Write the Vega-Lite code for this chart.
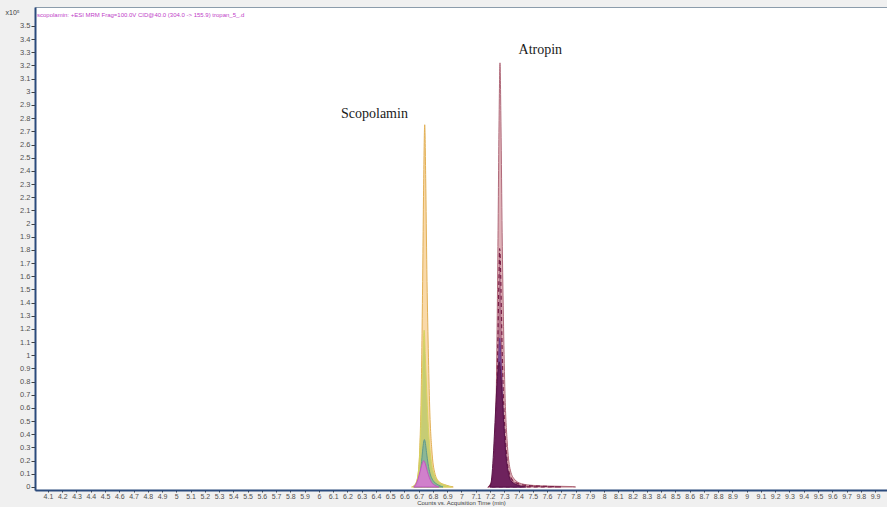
{
  "$schema": "https://vega.github.io/schema/vega-lite/v6.json",
  "width": 852,
  "height": 483,
  "autosize": {"type": "none"},
  "padding": {"left": 35, "top": 7, "right": 0, "bottom": 17},
  "background": "#f0f0f0",
  "config": {
    "view": {"fill": "white", "stroke": "#8c9cab", "strokeWidth": 1},
    "font": "Liberation Sans",
    "axis": {"labelFont": "Liberation Sans", "titleFont": "Liberation Sans", "labelColor": "#505050", "tickColor": "#404040", "grid": false}
  },
  "datasets": {
    "traces": [
      {"s": "orange", "t": 6.662, "v": 0}, {"s": "orange", "t": 6.682, "v": 0.03}, {"s": "orange", "t": 6.697, "v": 0.11},
      {"s": "orange", "t": 6.707, "v": 0.28}, {"s": "orange", "t": 6.717, "v": 0.69}, {"s": "orange", "t": 6.727, "v": 1.51},
      {"s": "orange", "t": 6.735, "v": 2.34}, {"s": "orange", "t": 6.742, "v": 2.75}, {"s": "orange", "t": 6.749, "v": 2.34},
      {"s": "orange", "t": 6.757, "v": 1.65}, {"s": "orange", "t": 6.767, "v": 1.05}, {"s": "orange", "t": 6.777, "v": 0.6},
      {"s": "orange", "t": 6.792, "v": 0.28}, {"s": "orange", "t": 6.812, "v": 0.11}, {"s": "orange", "t": 6.842, "v": 0.04},
      {"s": "orange", "t": 6.892, "v": 0.014}, {"s": "orange", "t": 6.942, "v": 0},

      {"s": "green", "t": 6.65, "v": 0}, {"s": "green", "t": 6.675, "v": 0.02}, {"s": "green", "t": 6.69, "v": 0.06},
      {"s": "green", "t": 6.70, "v": 0.14}, {"s": "green", "t": 6.71, "v": 0.32}, {"s": "green", "t": 6.72, "v": 0.62},
      {"s": "green", "t": 6.73, "v": 1.0}, {"s": "green", "t": 6.738, "v": 1.19}, {"s": "green", "t": 6.746, "v": 1.0},
      {"s": "green", "t": 6.755, "v": 0.75}, {"s": "green", "t": 6.765, "v": 0.5}, {"s": "green", "t": 6.775, "v": 0.33},
      {"s": "green", "t": 6.79, "v": 0.18}, {"s": "green", "t": 6.81, "v": 0.09}, {"s": "green", "t": 6.84, "v": 0.04},
      {"s": "green", "t": 6.88, "v": 0.015}, {"s": "green", "t": 6.93, "v": 0},

      {"s": "teal", "t": 6.67, "v": 0}, {"s": "teal", "t": 6.69, "v": 0.02}, {"s": "teal", "t": 6.705, "v": 0.07},
      {"s": "teal", "t": 6.715, "v": 0.14}, {"s": "teal", "t": 6.725, "v": 0.25}, {"s": "teal", "t": 6.733, "v": 0.33},
      {"s": "teal", "t": 6.74, "v": 0.36}, {"s": "teal", "t": 6.747, "v": 0.33}, {"s": "teal", "t": 6.755, "v": 0.26},
      {"s": "teal", "t": 6.765, "v": 0.18}, {"s": "teal", "t": 6.78, "v": 0.1}, {"s": "teal", "t": 6.80, "v": 0.05},
      {"s": "teal", "t": 6.83, "v": 0.02}, {"s": "teal", "t": 6.87, "v": 0},

      {"s": "pink", "t": 6.665, "v": 0}, {"s": "pink", "t": 6.68, "v": 0.02}, {"s": "pink", "t": 6.695, "v": 0.06},
      {"s": "pink", "t": 6.71, "v": 0.12}, {"s": "pink", "t": 6.725, "v": 0.18}, {"s": "pink", "t": 6.735, "v": 0.2},
      {"s": "pink", "t": 6.745, "v": 0.18}, {"s": "pink", "t": 6.76, "v": 0.12}, {"s": "pink", "t": 6.775, "v": 0.07},
      {"s": "pink", "t": 6.79, "v": 0.035}, {"s": "pink", "t": 6.81, "v": 0.015}, {"s": "pink", "t": 6.84, "v": 0},

      {"s": "rose", "t": 7.19, "v": 0}, {"s": "rose", "t": 7.21, "v": 0.04}, {"s": "rose", "t": 7.225, "v": 0.13},
      {"s": "rose", "t": 7.235, "v": 0.32}, {"s": "rose", "t": 7.245, "v": 0.8}, {"s": "rose", "t": 7.255, "v": 1.77},
      {"s": "rose", "t": 7.263, "v": 2.74}, {"s": "rose", "t": 7.27, "v": 3.22}, {"s": "rose", "t": 7.277, "v": 2.74},
      {"s": "rose", "t": 7.285, "v": 1.93}, {"s": "rose", "t": 7.295, "v": 1.22}, {"s": "rose", "t": 7.305, "v": 0.71},
      {"s": "rose", "t": 7.32, "v": 0.35}, {"s": "rose", "t": 7.34, "v": 0.14}, {"s": "rose", "t": 7.37, "v": 0.06},
      {"s": "rose", "t": 7.42, "v": 0.025}, {"s": "rose", "t": 7.5, "v": 0.012}, {"s": "rose", "t": 7.6, "v": 0.007},
      {"s": "rose", "t": 7.78, "v": 0.003}, {"s": "rose", "t": 7.8, "v": 0},

      {"s": "maroon", "t": 7.19, "v": 0}, {"s": "maroon", "t": 7.21, "v": 0.04}, {"s": "maroon", "t": 7.225, "v": 0.12},
      {"s": "maroon", "t": 7.235, "v": 0.28}, {"s": "maroon", "t": 7.245, "v": 0.6}, {"s": "maroon", "t": 7.255, "v": 1.1},
      {"s": "maroon", "t": 7.262, "v": 1.55}, {"s": "maroon", "t": 7.268, "v": 1.81}, {"s": "maroon", "t": 7.275, "v": 1.6},
      {"s": "maroon", "t": 7.283, "v": 1.15}, {"s": "maroon", "t": 7.293, "v": 0.72}, {"s": "maroon", "t": 7.305, "v": 0.42},
      {"s": "maroon", "t": 7.32, "v": 0.2}, {"s": "maroon", "t": 7.34, "v": 0.09}, {"s": "maroon", "t": 7.37, "v": 0.04},
      {"s": "maroon", "t": 7.45, "v": 0.012}, {"s": "maroon", "t": 7.6, "v": 0.004}, {"s": "maroon", "t": 7.7, "v": 0},

      {"s": "purple", "t": 7.2, "v": 0}, {"s": "purple", "t": 7.215, "v": 0.04}, {"s": "purple", "t": 7.228, "v": 0.13},
      {"s": "purple", "t": 7.24, "v": 0.33}, {"s": "purple", "t": 7.25, "v": 0.6}, {"s": "purple", "t": 7.26, "v": 0.93},
      {"s": "purple", "t": 7.268, "v": 1.13}, {"s": "purple", "t": 7.276, "v": 0.98}, {"s": "purple", "t": 7.285, "v": 0.72},
      {"s": "purple", "t": 7.295, "v": 0.46}, {"s": "purple", "t": 7.307, "v": 0.26}, {"s": "purple", "t": 7.32, "v": 0.13},
      {"s": "purple", "t": 7.34, "v": 0.05}, {"s": "purple", "t": 7.37, "v": 0.02}, {"s": "purple", "t": 7.42, "v": 0},

      {"s": "dark", "t": 7.2, "v": 0}, {"s": "dark", "t": 7.21, "v": 0.05}, {"s": "dark", "t": 7.22, "v": 0.18},
      {"s": "dark", "t": 7.23, "v": 0.38}, {"s": "dark", "t": 7.24, "v": 0.6}, {"s": "dark", "t": 7.25, "v": 0.8},
      {"s": "dark", "t": 7.26, "v": 0.92}, {"s": "dark", "t": 7.265, "v": 0.95}, {"s": "dark", "t": 7.272, "v": 0.9},
      {"s": "dark", "t": 7.28, "v": 0.78}, {"s": "dark", "t": 7.29, "v": 0.6}, {"s": "dark", "t": 7.30, "v": 0.42},
      {"s": "dark", "t": 7.31, "v": 0.26}, {"s": "dark", "t": 7.325, "v": 0.13}, {"s": "dark", "t": 7.345, "v": 0.05},
      {"s": "dark", "t": 7.38, "v": 0.02}, {"s": "dark", "t": 7.45, "v": 0}
    ],
    "labels": [
      {"t": 6.155, "v": 2.83, "txt": "Scopolamin"},
      {"t": 7.40, "v": 3.32, "txt": "Atropin"}
    ],
    "header": [
      {"t": 4.023, "v": 3.585, "txt": "scopolamin: +ESI MRM Frag=100.0V CID@40.0 (304.0 -> 155.9) tropan_5_.d"}
    ]
  },
  "encoding": {
    "x": {
      "field": "t", "type": "quantitative",
      "scale": {"domain": [4.009, 9.984], "nice": false, "zero": false},
      "axis": {
        "title": "Counts vs. Acquisition Time (min)",
        "titleFontSize": 6, "titleFontWeight": "normal", "titleColor": "#404040", "titlePadding": 0,
        "values": [4.1,4.2,4.3,4.4,4.5,4.6,4.7,4.8,4.9,5,5.1,5.2,5.3,5.4,5.5,5.6,5.7,5.8,5.9,6,6.1,6.2,6.3,6.4,6.5,6.6,6.7,6.8,6.9,7,7.1,7.2,7.3,7.4,7.5,7.6,7.7,7.8,7.9,8,8.1,8.2,8.3,8.4,8.5,8.6,8.7,8.8,8.9,9,9.1,9.2,9.3,9.4,9.5,9.6,9.7,9.8,9.9],
        "format": ".2~r", "labelFontSize": 7, "labelPadding": 0, "tickSize": 2,
        "domainColor": "#2a4a7c", "domainWidth": 2, "labelFlush": false, "labelOverlap": false
      }
    },
    "y": {
      "field": "v", "type": "quantitative",
      "scale": {"domain": [-0.023, 3.644], "nice": false, "zero": false},
      "axis": {
        "title": "x10⁵", "titleAngle": 0, "titleX": -30, "titleY": 8, "titleAlign": "left",
        "titleFontSize": 7, "titleFontWeight": "normal", "titleColor": "#404040",
        "values": [0,0.1,0.2,0.3,0.4,0.5,0.6,0.7,0.8,0.9,1,1.1,1.2,1.3,1.4,1.5,1.6,1.7,1.8,1.9,2,2.1,2.2,2.3,2.4,2.5,2.6,2.7,2.8,2.9,3,3.1,3.2,3.3,3.4,3.5],
        "format": ".2~r", "labelFontSize": 7.5, "labelPadding": 1, "tickSize": 4,
        "domainColor": "#2a4a7c", "domainWidth": 2, "labelOverlap": false, "labelFlush": false
      }
    }
  },
  "layer": [
    {"data": {"name": "traces"}, "transform": [{"filter": "datum.s === 'orange'"}],
     "mark": {"type": "area", "interpolate": "monotone", "clip": true, "fill": "#f7cf94", "fillOpacity": 0.8, "stroke": "#e2b055", "strokeWidth": 1}},
    {"data": {"name": "traces"}, "transform": [{"filter": "datum.s === 'green'"}],
     "mark": {"type": "area", "interpolate": "monotone", "clip": true, "fill": "#b9c866", "fillOpacity": 0.8, "stroke": "#d8d460", "strokeWidth": 1}},
    {"data": {"name": "traces"}, "transform": [{"filter": "datum.s === 'teal'"}],
     "mark": {"type": "area", "interpolate": "monotone", "clip": true, "fill": "#7fb19c", "fillOpacity": 0.85, "stroke": "#5f9a8c", "strokeWidth": 1}},
    {"data": {"name": "traces"}, "transform": [{"filter": "datum.s === 'pink'"}],
     "mark": {"type": "area", "interpolate": "monotone", "clip": true, "fill": "#d77ad0", "fillOpacity": 0.9, "stroke": "#c255bf", "strokeWidth": 1}},
    {"data": {"name": "traces"}, "transform": [{"filter": "datum.s === 'rose'"}],
     "mark": {"type": "area", "interpolate": "monotone", "clip": true, "fill": "#dcaab0", "fillOpacity": 0.9, "stroke": "#b06a7a", "strokeWidth": 1}},
    {"data": {"name": "traces"}, "transform": [{"filter": "datum.s === 'maroon'"}],
     "mark": {"type": "area", "interpolate": "monotone", "clip": true, "fill": "#a8627e", "fillOpacity": 0.8, "stroke": "#7a1f48", "strokeWidth": 1.2, "strokeDash": [4, 3]}},
    {"data": {"name": "traces"}, "transform": [{"filter": "datum.s === 'purple'"}],
     "mark": {"type": "area", "interpolate": "monotone", "clip": true, "fill": "#7d4e9c", "fillOpacity": 0.9, "stroke": "#6a3a8a", "strokeWidth": 1}},
    {"data": {"name": "traces"}, "transform": [{"filter": "datum.s === 'dark'"}],
     "mark": {"type": "area", "interpolate": "monotone", "clip": true, "fill": "#6b1d56", "fillOpacity": 0.9, "stroke": "#5a1448", "strokeWidth": 1}},
    {"mark": {"type": "rule", "color": "#d9a9e2", "strokeWidth": 2}, "encoding": {"y": {"datum": 0}, "x": null}},
    {"data": {"name": "labels"},
     "mark": {"type": "text", "font": "Liberation Serif", "fontSize": 14, "align": "left", "baseline": "middle", "color": "#1a1a1a"},
     "encoding": {"text": {"field": "txt"}}},
    {"data": {"name": "header"},
     "mark": {"type": "text", "font": "Liberation Sans", "fontSize": 6, "align": "left", "baseline": "middle", "color": "#c040c8"},
     "encoding": {"text": {"field": "txt"}}}
  ]
}
